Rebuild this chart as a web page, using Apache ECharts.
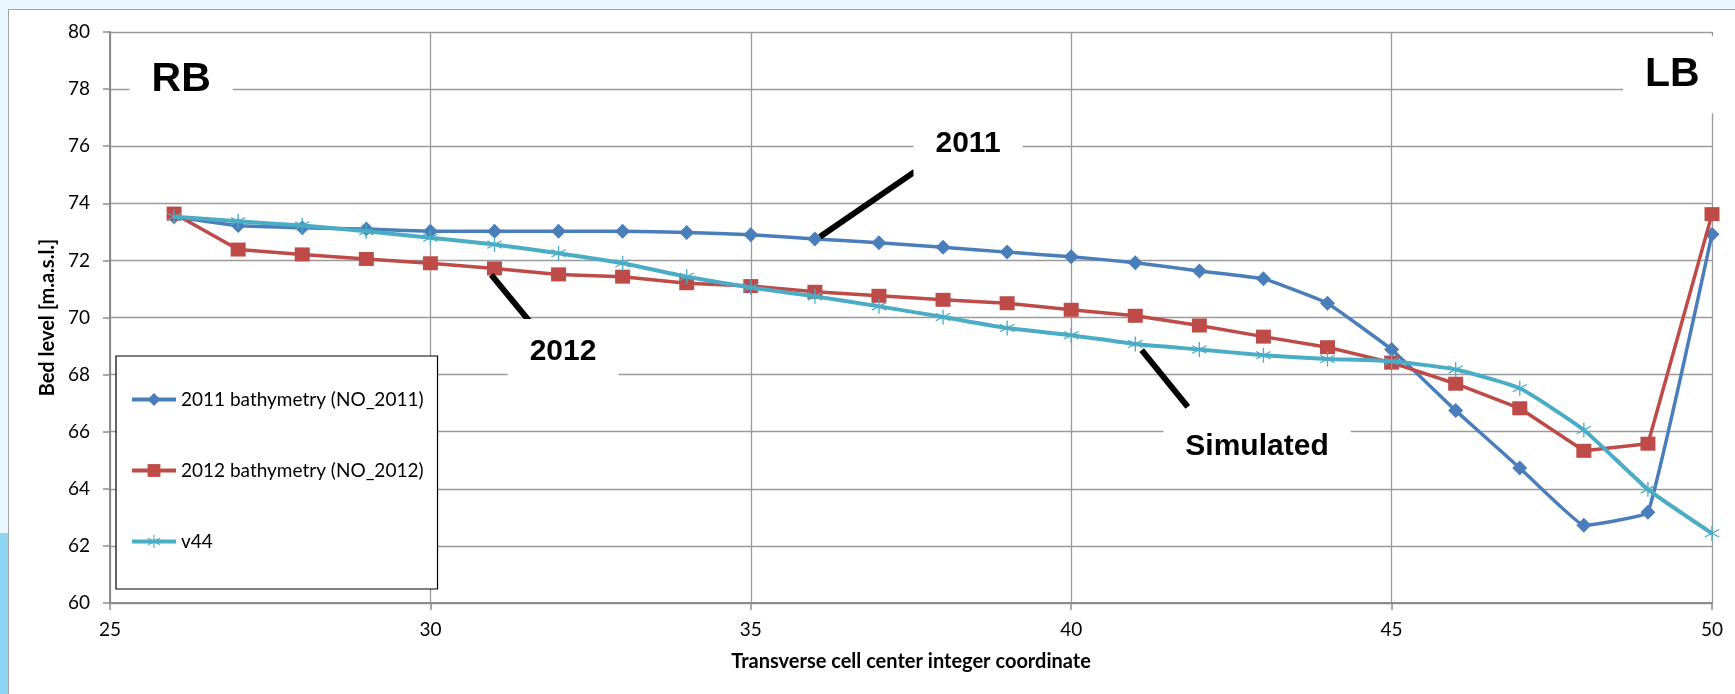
<!DOCTYPE html>
<html>
<head>
<meta charset="utf-8">
<script src="https://cdn.jsdelivr.net/npm/echarts@6/dist/echarts.min.js"></script>
<style>
  html, body { margin: 0; padding: 0; }
  body { width: 1735px; height: 694px; background: #eaf8fd; position: relative; overflow: hidden; }
  #strip { position: absolute; left: 0; top: 533px; width: 8px; height: 161px; background: #8fd4f2; }
  #frame { position: absolute; left: 8px; top: 9px; width: 1727px; height: 685px; background: #fff;
           border-left: 1px solid #a6a6a6; border-top: 1px solid #a6a6a6; box-sizing: border-box; }
  #bedChart { position: absolute; left: 0; top: 0; width: 1735px; height: 694px; }
</style>
</head>
<body>
<div id="strip"></div>
<div id="frame"></div>
<div id="bedChart"></div>
<script>
// transverse cell coordinates
var cells = [26, 27, 28, 29, 30, 31, 32, 33, 34, 35, 36, 37, 38, 39, 40, 41, 42, 43, 44, 45, 46, 47, 48, 49, 50];
// bed levels [m.a.s.l.]
var bed2011 = [73.53, 73.22, 73.14, 73.10, 73.02, 73.02, 73.02, 73.02, 72.98, 72.90, 72.75, 72.62, 72.46, 72.29,
  72.13, 71.92, 71.63, 71.36, 70.50, 68.88, 66.74, 64.73, 62.72, 63.18, 72.92];
var bed2012 = [73.64, 72.38, 72.21, 72.05, 71.90, 71.72, 71.51, 71.43, 71.20, 71.10, 70.90, 70.76, 70.62, 70.50,
  70.27, 70.06, 69.72, 69.33, 68.96, 68.42, 67.68, 66.82, 65.33, 65.58, 73.62];
var bedV44 = [73.53, 73.37, 73.22, 73.02, 72.79, 72.56, 72.25, 71.90, 71.43, 71.05, 70.74, 70.39, 70.02, 69.63,
  69.38, 69.07, 68.88, 68.68, 68.55, 68.47, 68.18, 67.52, 66.06, 63.98, 62.44];
var seriesNames = ["2011 bathymetry (NO_2011)", "2012 bathymetry (NO_2012)", "v44"];

// text annotations (data coordinates)
var annoText = ["RB", "LB", "2011", "2012", "Simulated"];
var annoX = [26.11, 49.38, 38.39, 32.07, 42.90];
var annoY = [78.32, 78.50, 76.08, 68.79, 65.49];
// leader lines: [x1, y1, x2, y2]
var leaders = [
  [36.08, 72.83, 37.56, 75.11],
  [30.95, 71.49, 31.67, 69.53],
  [41.10, 68.86, 41.82, 66.87]
];

var xTicks = { min: 25, max: 50, step: 5 };
var yTicks = { min: 60, max: 80, step: 2 };

var asterisk = "path://M9.2,0L10.8,0L10.8,20L9.2,20Z" +
  "M0.94,5.69L1.74,4.31L19.06,14.31L18.26,15.69Z" +
  "M1.74,15.69L0.94,14.31L18.26,4.31L19.06,5.69Z";

function pairs(ys) {
  return cells.map(function (c, i) { return [c, ys[i]]; });
}

var chart = echarts.init(document.getElementById("bedChart"));
var gridGray = "#9a9a9a";
var uiFont = "Lato";

chart.setOption({
  animation: false,
  backgroundColor: "transparent",
  grid: { left: 110, top: 32, right: 23, bottom: 91 },
  legend: {
    data: seriesNames,
    orient: "vertical",
    left: 116,
    top: 356,
    backgroundColor: "#fff",
    borderColor: "#000",
    borderWidth: 1.2,
    padding: [34, 14, 38, 14],
    itemGap: 52,
    itemWidth: 44,
    itemHeight: 16,
    lineStyle: { width: 4 },
    textStyle: { fontFamily: uiFont, fontSize: 19, color: "#000" }
  },
  xAxis: {
    type: "value",
    min: xTicks.min,
    max: xTicks.max,
    interval: xTicks.step,
    name: "Transverse cell center integer coordinate",
    nameLocation: "middle",
    nameGap: 49,
    nameTextStyle: { fontFamily: uiFont, fontSize: 20, fontWeight: "bold", color: "#000" },
    axisLine: { lineStyle: { color: "#8c8c8c", width: 2 } },
    axisTick: { show: true, length: 7, lineStyle: { color: "#8c8c8c", width: 1.5 } },
    axisLabel: { fontFamily: uiFont, fontSize: 19, color: "#000", margin: 17 },
    splitLine: { show: true, lineStyle: { color: gridGray, width: 1.3 } }
  },
  yAxis: {
    type: "value",
    min: yTicks.min,
    max: yTicks.max,
    interval: yTicks.step,
    name: "Bed level [m.a.s.l.]",
    nameLocation: "middle",
    nameGap: 45,
    nameTextStyle: { fontFamily: uiFont, fontSize: 20, fontWeight: "bold", color: "#000" },
    axisLine: { show: true, lineStyle: { color: "#8c8c8c", width: 2 } },
    axisTick: { show: true, length: 7, lineStyle: { color: "#8c8c8c", width: 1.5 } },
    axisLabel: { fontFamily: uiFont, fontSize: 19, color: "#000", margin: 20 },
    splitLine: { show: true, lineStyle: { color: gridGray, width: 1.3 } }
  },
  series: [
    {
      name: seriesNames[0],
      type: "line",
      data: pairs(bed2011),
      smooth: 0.08,
      symbol: "diamond",
      symbolSize: 15,
      color: "#4a7ebb",
      lineStyle: { width: 3.5 },
      itemStyle: { color: "#4a7ebb" },
      z: 2
    },
    {
      name: seriesNames[1],
      type: "line",
      data: pairs(bed2012),
      symbol: "rect",
      symbolSize: [15, 14],
      color: "#be4b48",
      lineStyle: { width: 3.5 },
      itemStyle: { color: "#be4b48" },
      z: 3
    },
    {
      name: seriesNames[2],
      type: "line",
      data: pairs(bedV44),
      smooth: 0.15,
      symbol: asterisk,
      symbolSize: 15,
      color: "#4bacc6",
      lineStyle: { width: 4 },
      itemStyle: { color: "#4bacc6" },
      z: 4
    },
    {
      name: "notes",
      type: "scatter",
      z: 6,
      silent: true,
      symbolSize: 1,
      itemStyle: { color: "rgba(255,255,255,0)", opacity: 1 },
      data: annoText.map(function (t, i) {
        return {
          value: [annoX[i], annoY[i], t],
          label: { fontSize: (t === "RB" || t === "LB") ? 41 : 30 }
        };
      }),
      label: {
        show: true,
        position: "inside",
        formatter: function (p) { return p.value[2]; },
        fontFamily: "Liberation Sans",
        fontWeight: "bold",
        color: "#000",
        opacity: 1,
        textBorderWidth: 0,
        backgroundColor: "#fff",
        padding: [18, 22]
      },
      markLine: {
        silent: true,
        symbol: ["none", "none"],
        label: { show: false },
        lineStyle: { color: "#000", width: 6, type: "solid", opacity: 1 },
        data: leaders.map(function (l) {
          return [{ coord: [l[0], l[1]] }, { coord: [l[2], l[3]] }];
        })
      }
    }
  ]
});
</script>
</body>
</html>
